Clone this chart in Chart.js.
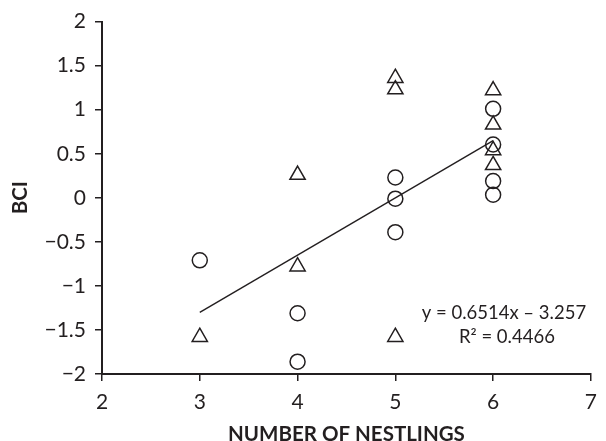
<!DOCTYPE html>
<html>
<head>
  <meta charset="utf-8">
  <title>BCI vs number of nestlings</title>
  <script src="https://cdn.jsdelivr.net/npm/chart.js"></script>
  <style>
    html, body { margin: 0; padding: 0; background: #ffffff; }
    .wrap { width: 606px; height: 441px; }
  </style>
</head>
<body>
  <div class="wrap"><canvas id="chart" width="606" height="441"></canvas></div>
  <script>
    // circles
    const circleX = [3, 4, 4, 5, 5, 5, 6, 6, 6, 6];
    const circleY = [-0.71, -1.31, -1.86, 0.23, -0.01, -0.39, 1.01, 0.605, 0.19, 0.035];
    // triangles
    const triX = [3, 4, 4, 5, 5, 5, 6, 6, 6, 6];
    const triY = [-1.58, 0.26, -0.78, 1.36, 1.23, -1.58, 1.22, 0.83, 0.54, 0.37];
    // fitted line end points, x = 3 and x = 6
    const trendX = [3, 6];
    const trendY = [-1.30, 0.65];
    const eqLines = ['y = 0.6514x \u2013 3.257', 'R\u00b2 = 0.4466'];
    const xTicks = [2, 3, 4, 5, 6, 7];
    const yTicks = [2, 1.5, 1, 0.5, 0, -0.5, -1, -1.5, -2];

    const ink = '#231f20';
    const font = 'Lato';

    const toPts = (xs, ys) => xs.map((x, i) => ({ x: x, y: ys[i] }));

    const eqText = {
      id: 'eqText',
      afterDatasetsDraw(chart) {
        const { ctx, scales } = chart;
        const cx = scales.x.getPixelForValue(6.11);
        const cy = scales.y.getPixelForValue(-1.31);
        ctx.save();
        ctx.fillStyle = ink;
        ctx.font = '18.5px ' + font;
        ctx.textAlign = 'center';
        ctx.textBaseline = 'middle';
        ctx.fillText(eqLines[0], cx, cy);
        ctx.fillText(eqLines[1], cx + 3, cy + 24);
        ctx.restore();
      }
    };

    new Chart(document.getElementById('chart'), {
      type: 'scatter',
      data: {
        datasets: [
          {
            data: toPts(circleX, circleY),
            pointStyle: 'circle',
            radius: 7.5,
            borderColor: ink,
            borderWidth: 1.5,
            backgroundColor: 'rgba(0,0,0,0)'
          },
          {
            data: toPts(triX, triY),
            pointStyle: 'triangle',
            radius: 8.8,
            borderColor: ink,
            borderWidth: 1.5,
            backgroundColor: 'rgba(0,0,0,0)'
          },
          {
            type: 'line',
            data: toPts(trendX, trendY),
            borderColor: ink,
            borderWidth: 1.4,
            pointRadius: 0,
            fill: false
          }
        ]
      },
      options: {
        responsive: false,
        animation: false,
        layout: { padding: { top: 21, right: 8, left: 0, bottom: 0 } },
        plugins: { legend: { display: false }, tooltip: { enabled: false } },
        scales: {
          x: {
            type: 'linear',
            min: 2, max: 7,
            afterFit(s) { s.height = 67; },
            afterBuildTicks(s) { s.ticks = xTicks.map(v => ({ value: v })); },
            grid: { drawOnChartArea: false, drawTicks: true, tickLength: 7, color: ink, lineWidth: 1.5 },
            border: { color: ink, width: 2 },
            ticks: { color: ink, font: { family: font, size: 21 }, padding: 9 },
            title: {
              display: true, text: 'NUMBER OF NESTLINGS', color: ink,
              font: { family: font, size: 20.5, weight: 'bold' }, padding: { top: 0, bottom: -6 }
            }
          },
          y: {
            type: 'linear',
            min: -2, max: 2,
            afterFit(s) { s.width = 102; },
            afterBuildTicks(s) { s.ticks = yTicks.map(v => ({ value: v })); },
            grid: { drawOnChartArea: false, drawTicks: true, tickLength: 7, color: ink, lineWidth: 1.5 },
            border: { color: ink, width: 2 },
            ticks: {
              color: ink, font: { family: font, size: 21 }, padding: 9,
              callback: v => v < 0 ? '\u2212' + Math.abs(v) : String(v)
            },
            title: {
              display: true, text: 'BCI', color: ink,
              font: { family: font, size: 20.5, weight: 'bold' }, padding: { top: 8, bottom: 0 }
            }
          }
        }
      },
      plugins: [eqText]
    });
  </script>
</body>
</html>
